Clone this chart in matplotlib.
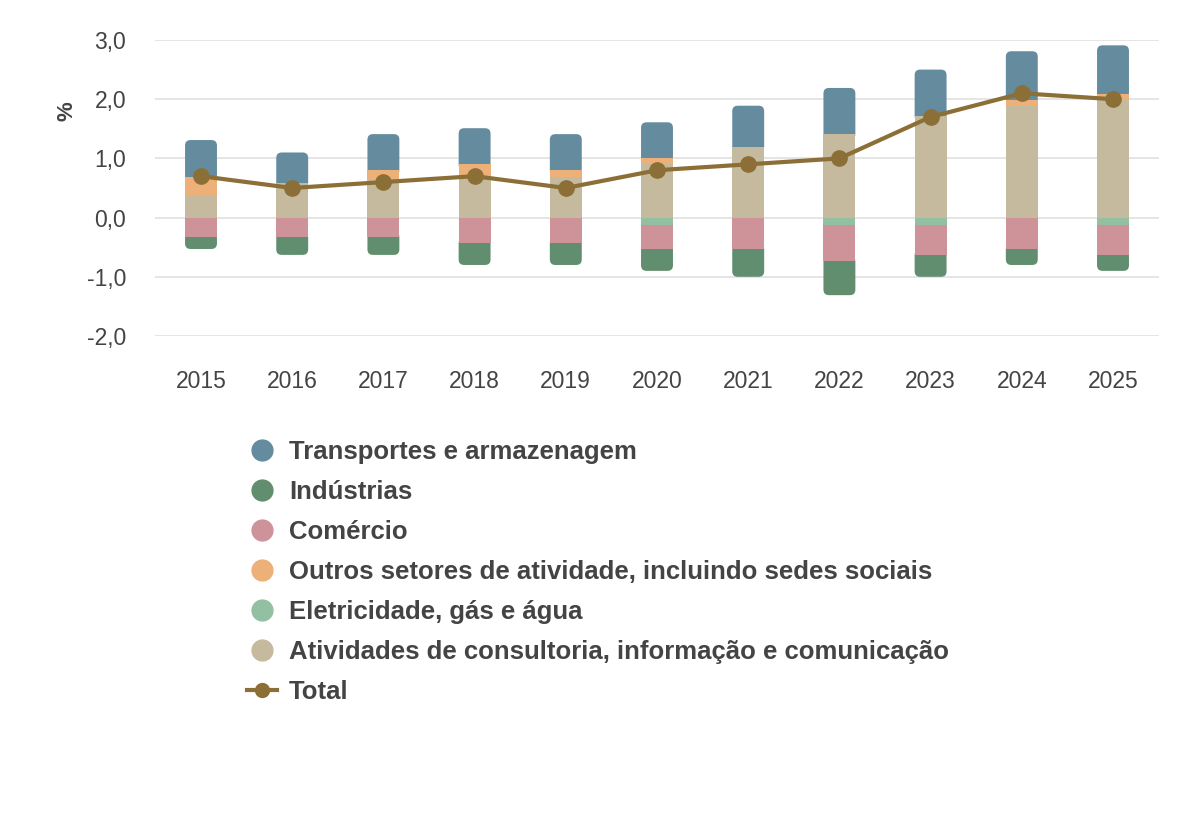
import matplotlib.pyplot as plt
from matplotlib.patches import FancyBboxPatch
from matplotlib.lines import Line2D
import numpy as np

plt.rcParams['font.family'] = ['Liberation Sans', 'DejaVu Sans']

years = ['2015', '2016', '2017', '2018', '2019', '2020', '2021', '2022', '2023', '2024', '2025']

# contributions (p.p.)
transportes = [0.62, 0.51, 0.61, 0.61, 0.61, 0.61, 0.69, 0.78, 0.78, 0.82, 0.82]
industrias = [-0.20, -0.30, -0.30, -0.37, -0.37, -0.37, -0.47, -0.57, -0.37, -0.27, -0.27]
comercio = [-0.33, -0.33, -0.33, -0.43, -0.43, -0.41, -0.53, -0.62, -0.51, -0.53, -0.51]
outros = [0.30, 0.0, 0.16, 0.20, 0.11, 0.10, 0.0, 0.0, 0.0, 0.10, 0.10]
eletricidade = [0.0, 0.0, 0.0, 0.0, 0.0, -0.12, 0.0, -0.12, -0.12, 0.0, -0.12]
consultoria = [0.39, 0.59, 0.64, 0.70, 0.69, 0.90, 1.20, 1.41, 1.72, 1.89, 1.99]
total = [0.7, 0.5, 0.6, 0.7, 0.5, 0.8, 0.9, 1.0, 1.7, 2.1, 2.0]

labels = ['Transportes e armazenagem', 'Indústrias', 'Comércio',
          'Outros setores de atividade, incluindo sedes sociais',
          'Eletricidade, gás e água',
          'Atividades de consultoria, informação e comunicação']
series = [transportes, industrias, comercio, outros, eletricidade, consultoria]
colors = ['#648B9E', '#608E6E', '#CE9299', '#EDB078', '#92C0A1', '#C6BA9E']
total_color = '#8B6F36'
text_color = '#444444'

W, H = 1200, 840
fig = plt.figure(figsize=(W / 100, H / 100), dpi=100)
ax_left, ax_right, ax_top, ax_bottom = 155.4, 1158.6, 40, 336
ax = fig.add_axes([ax_left / W, 1 - ax_bottom / H, (ax_right - ax_left) / W, (ax_bottom - ax_top) / H])

x = np.arange(len(years))
ax.set_xlim(-0.5, len(years) - 0.5)
ax.set_ylim(-2, 3)

bar_w = 0.35
px_x = (ax_right - ax_left) / len(years)
px_y = (ax_bottom - ax_top) / 5
rx = 5.5 / px_x
ry = 5.5 / px_y

pos_bottom = np.zeros(len(years))
neg_bottom = np.zeros(len(years))
# outermost segment of each stack: (rect, bottom, top, color)
top_seg = [None] * len(years)
bot_seg = [None] * len(years)
# stack in reverse legend order: last series sits next to zero
for vals, col in zip(series[::-1], colors[::-1]):
    vals = np.array(vals)
    base = np.where(vals >= 0, pos_bottom, neg_bottom)
    b = ax.bar(x, vals, bar_w, bottom=base, color=col, linewidth=0, zorder=2)
    for i, v in enumerate(vals):
        if v > 0:
            top_seg[i] = (b[i], base[i], base[i] + v, col)
        elif v < 0:
            bot_seg[i] = (b[i], base[i] + v, base[i], col)
    pos_bottom += np.where(vals >= 0, vals, 0)
    neg_bottom += np.where(vals < 0, vals, 0)

# rounded ends: replace outer segments with rounded boxes tucked under their neighbours
for i in range(len(years)):
    rect, y0, y1, col = top_seg[i]
    rect.set_visible(False)
    ax.add_patch(FancyBboxPatch((x[i] - bar_w / 2, y0 - ry), bar_w, y1 - y0 + ry,
                                boxstyle='round,pad=0,rounding_size=%f' % rx,
                                mutation_aspect=ry / rx, color=col, linewidth=0, zorder=1.9))
    rect, y0, y1, col = bot_seg[i]
    rect.set_visible(False)
    ax.add_patch(FancyBboxPatch((x[i] - bar_w / 2, y0), bar_w, y1 - y0 + ry,
                                boxstyle='round,pad=0,rounding_size=%f' % rx,
                                mutation_aspect=ry / rx, color=col, linewidth=0, zorder=1.9))

ax.plot(x, total, color=total_color, linewidth=3, marker='o', markersize=11, zorder=3)

ax.set_yticks([-2, -1, 0, 1, 2, 3])
ax.set_yticklabels(['-2,0', '-1,0', '0,0', '1,0', '2,0', '3,0'])
ax.set_xticks(x)
ax.set_xticklabels(years)
ax.tick_params(axis='both', length=0, labelsize=16.5, colors=text_color)
ax.tick_params(axis='x', pad=24.8)
ax.tick_params(axis='y', pad=21)
ax.grid(axis='y', color='#e3e3e3', linewidth=1.3, zorder=0)
ax.set_axisbelow(True)
for s in ax.spines.values():
    s.set_visible(False)
ax.set_ylabel('%', fontsize=16, fontweight='bold', color=text_color)
ax.yaxis.set_label_coords(-0.078, 0.76)

handles = [Line2D([], [], linestyle='none', marker='o', markersize=15, color=c) for c in colors]
handles.append(Line2D([], [], color=total_color, linewidth=3, marker='o', markersize=10))
leg = fig.legend(handles, labels + ['Total'], loc='upper left', bbox_to_anchor=(246.6 / W, 1 - 440 / H),
                 frameon=False, fontsize=18.5, labelspacing=0.62, handlelength=1.2, handletextpad=0.45,
                 borderpad=0, borderaxespad=0)
for t in leg.get_texts():
    t.set_fontweight('bold')
    t.set_color(text_color)

fig.savefig('out.png', dpi=100)
